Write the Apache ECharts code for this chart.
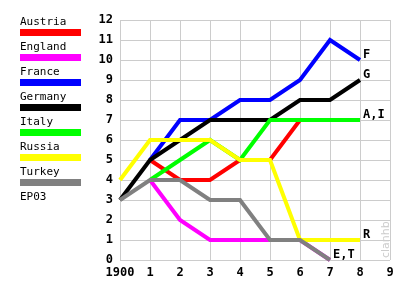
<!DOCTYPE html>
<html>
<head>
<meta charset="utf-8">
<script src="https://cdn.jsdelivr.net/npm/echarts@6/dist/echarts.min.js"></script>
<style>
html, body { margin: 0; padding: 0; background: #fff; }
#chart { width: 415px; height: 290px; }
</style>
</head>
<body>
<div id="chart"></div>
<script>
// x axis categories
const years = ['1900', '1', '2', '3', '4', '5', '6', '7', '8', '9'];
// series
const names = ['Austria', 'England', 'France', 'Germany', 'Italy', 'Russia', 'Turkey'];
const colors = ['#ff0000', '#ff00ff', '#0000ff', '#000000', '#00ff00', '#ffff00', '#808080'];
const austria = [null, 5, 4, 4, 5, 5, 7, 7, 7];
const england = [null, 4, 2, 1, 1, 1, 1, 0];
const france = [null, 5, 7, 7, 8, 8, 9, 11, 10];
const germany = [3, 5, 6, 7, 7, 7, 8, 8, 9];
const italy = [null, 4, 5, 6, 5, 7, 7, 7, 7];
const russia = [4, 6, 6, 6, 5, 5, 1, 1, 1];
const turkey = [3, 4, 4, 3, 3, 1, 1, 0];
// labels at line ends
const endTags = ['', '', 'F', 'G', 'A,I', 'R', 'E,T'];

const values = [austria, england, france, germany, italy, russia, turkey];

let chart = echarts.init(document.getElementById('chart'));

// legend drawn by hand: name above colour bar
let graphics = [];
names.forEach((n, i) => {
    graphics.push({
        type: 'text', left: 20, top: 17 + 25 * i,
        style: { text: n, fill: '#000', font: '11px "DejaVu Sans Mono"' }
    });
    graphics.push({
        type: 'rect', shape: { x: 20, y: 29 + 25 * i, width: 61, height: 7 },
        style: { fill: colors[i] }
    });
});
graphics.push({
    type: 'text', left: 20, top: 192,
    style: { text: 'EP03', fill: '#000', font: '11px "DejaVu Sans Mono"' }
});
// watermark
graphics.push({
    type: 'text', x: 381, y: 258, rotation: Math.PI / 2,
    style: { text: 'clanhb', fill: '#cccccc', font: '11px "DejaVu Sans"' }
});

let option = {
    animation: false,
    grid: { left: 120, right: 25, top: 20, bottom: 30 },
    xAxis: {
        type: 'category',
        data: years,
        boundaryGap: false,
        axisLine: { show: false },
        axisTick: { show: false },
        axisLabel: {
            interval: 0, margin: 7, color: '#000',
            fontFamily: 'DejaVu Sans Mono', fontWeight: 'bold', fontSize: 12
        },
        splitLine: { show: true, interval: 0, lineStyle: { color: '#cccccc', width: 1 } }
    },
    yAxis: {
        type: 'value',
        min: 0, max: 12, interval: 1,
        axisLine: { show: false },
        axisTick: { show: false },
        axisLabel: {
            margin: 7, color: '#000',
            fontFamily: 'DejaVu Sans Mono', fontWeight: 'bold', fontSize: 12
        },
        splitLine: { lineStyle: { color: '#cccccc', width: 1 } }
    },
    series: names.map((n, i) => ({
        name: n,
        type: 'line',
        data: values[i],
        symbol: 'none',
        lineStyle: { color: colors[i], width: 4, join: 'miter' },
        itemStyle: { color: colors[i] },
        endLabel: {
            show: endTags[i] !== '',
            formatter: endTags[i],
            distance: 3,
            offset: [0, -5],
            color: '#000',
            fontFamily: 'DejaVu Sans Mono', fontWeight: 'bold', fontSize: 12
        }
    })),
    graphic: graphics
};
chart.setOption(option);
</script>
</body>
</html>
